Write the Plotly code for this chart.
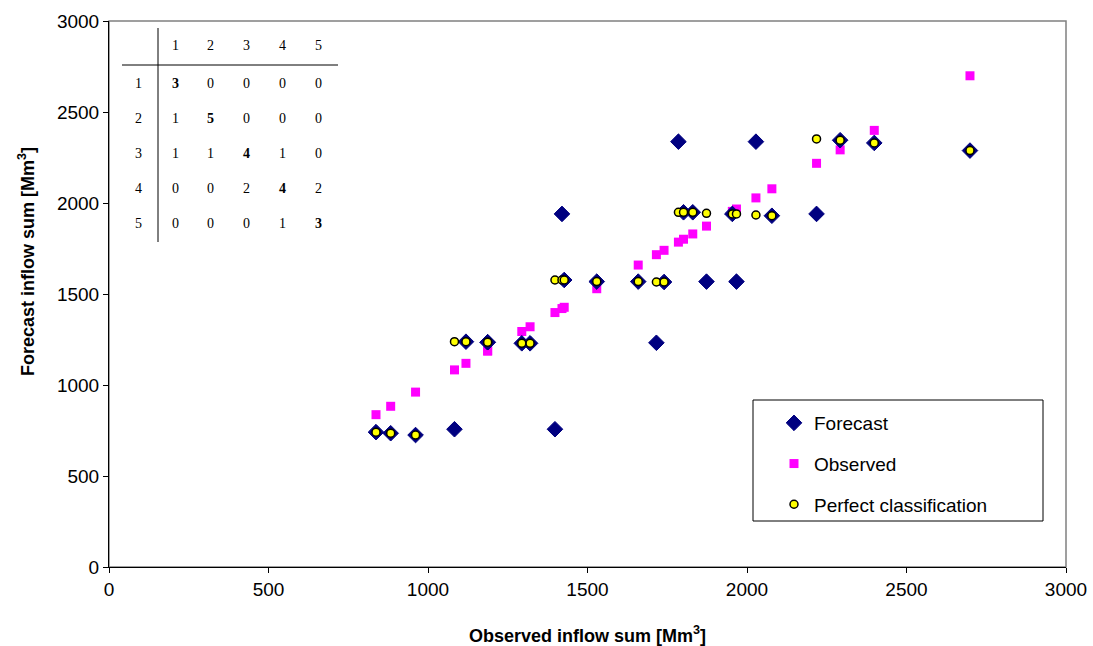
import plotly.graph_objects as go

# ---------------- data ----------------
observed = [837, 883, 961, 1083, 1119, 1187, 1187, 1294, 1320, 1398, 1420, 1427,
            1529, 1659, 1716, 1740, 1785, 1801, 1830, 1873, 1954, 1967, 2028,
            2078, 2218, 2292, 2399, 2699]
forecast = [741, 735, 725, 757, 1238, 1235, 1235, 1229, 1229, 757, 1940, 1577,
            1568, 1568, 1232, 1566, 2337, 1949, 1949, 1568, 1940, 1568, 2337,
            1930, 1940, 2345, 2330, 2288]
perfect = [741, 735, 725, 1238, 1238, 1235, 1235, 1229, 1229, 1577, 1577, 1577,
           1568, 1568, 1566, 1566, 1949, 1949, 1949, 1943, 1940, 1940, 1934,
           1930, 2352, 2345, 2330, 2288]

class_labels = ["1", "2", "3", "4", "5"]
contingency = [
    [3, 0, 0, 0, 0],
    [1, 5, 0, 0, 0],
    [1, 1, 4, 1, 0],
    [0, 0, 2, 4, 2],
    [0, 0, 0, 1, 3],
]

x_ticks = [0, 500, 1000, 1500, 2000, 2500, 3000]
y_ticks = [0, 500, 1000, 1500, 2000, 2500, 3000]

# ---------------- figure ----------------
W, H = 1093, 646
L, R, T, B = 109, 27, 21, 79
PW, PH = W - L - R, H - T - B

def px(xp):
    return (xp - L) / PW

def py(yp):
    return (H - B - yp) / PH

FONT = "Liberation Sans, Arial, sans-serif"

fig = go.Figure()

fig.add_trace(go.Scatter(
    x=observed, y=observed, mode="markers", name="Observed",
    legendrank=2, legendgroup="b",
    marker=dict(symbol="square", size=9, color="#FF00FF", line=dict(width=0)),
))
fig.add_trace(go.Scatter(
    x=observed, y=forecast, mode="markers", name="Forecast",
    legendrank=1, legendgroup="a",
    marker=dict(symbol="diamond", size=12, color="#000080",
                line=dict(width=1, color="#000080")),
))
fig.add_trace(go.Scatter(
    x=observed, y=perfect, mode="markers", name="Perfect classification",
    legendrank=3, legendgroup="c",
    marker=dict(symbol="circle", size=8, color="#FFFF00",
                line=dict(width=1.5, color="#000000")),
))

shapes = []
# plot area border (grey)
shapes.append(dict(type="rect", xref="paper", yref="paper", x0=0, x1=1, y0=0, y1=1,
                   line=dict(color="#808080", width=1.5), layer="below"))
# legend box
shapes.append(dict(type="rect", xref="paper", yref="paper",
                   x0=px(753), x1=px(1043), y0=py(521), y1=py(400),
                   line=dict(color="#000000", width=1), fillcolor="white"))
# table lines
shapes.append(dict(type="line", xref="paper", yref="paper",
                   x0=px(122), x1=px(338), y0=py(65), y1=py(65),
                   line=dict(color="#000000", width=1)))
shapes.append(dict(type="line", xref="paper", yref="paper",
                   x0=px(158), x1=px(158), y0=py(28), y1=py(242),
                   line=dict(color="#000000", width=1)))

annotations = []
col_x = [175, 210, 246, 282, 318]
row_y = [83, 118, 153, 188, 223]
TFONT = "Liberation Serif, Times New Roman, serif"

def cell(xp, yp, text):
    return dict(x=px(xp), y=py(yp), xref="paper", yref="paper", text=text,
                showarrow=False, xanchor="center", yanchor="middle",
                font=dict(family=TFONT, size=14, color="black"))

for j, lab in enumerate(class_labels):
    annotations.append(cell(col_x[j], 46, lab))
for i, lab in enumerate(class_labels):
    annotations.append(cell(138, row_y[i], lab))
    for j in range(5):
        v = str(contingency[i][j])
        if i == j:
            v = "<b>" + v + "</b>"
        annotations.append(cell(col_x[j], row_y[i], v))

# axis titles as annotations for exact placement
annotations.append(dict(x=px(587), y=py(634), xref="paper", yref="paper",
                        xanchor="center", yanchor="middle",
                        text="<b>Observed inflow sum [Mm<sup>3</sup>]</b>", showarrow=False,
                        font=dict(family=FONT, size=18, color="black")))
annotations.append(dict(x=px(26), y=py(262), xref="paper", yref="paper",
                        xanchor="center", yanchor="middle",
                        text="<b>Forecast inflow sum [Mm<sup>3</sup>]</b>", showarrow=False,
                        textangle=-90,
                        font=dict(family=FONT, size=18, color="black")))

fig.update_layout(
    width=W, height=H,
    margin=dict(l=L, r=R, t=T, b=B, autoexpand=False),
    paper_bgcolor="white", plot_bgcolor="white",
    font=dict(family=FONT, size=19, color="black"),
    shapes=shapes, annotations=annotations,
    showlegend=True,
    legend=dict(x=px(774), y=py(404), xanchor="left", yanchor="top",
                bgcolor="rgba(0,0,0,0)", borderwidth=0,
                font=dict(family=FONT, size=19, color="black"),
                tracegroupgap=13, itemsizing="trace"),
)

fig.update_xaxes(
    range=[0, 3000], tickmode="array", tickvals=x_ticks,
    ticktext=[str(v) for v in x_ticks], automargin=False,
    showgrid=False, zeroline=False, showline=True, linecolor="black", linewidth=1,
    ticks="outside", ticklen=5, tickcolor="black",
    tickfont=dict(family=FONT, size=19, color="black"),
)
fig.update_yaxes(
    range=[0, 3000], tickmode="array", tickvals=y_ticks,
    ticktext=[str(v) for v in y_ticks], automargin=False,
    showgrid=False, zeroline=False, showline=True, linecolor="black", linewidth=1,
    ticks="outside", ticklen=5, tickcolor="black",
    tickfont=dict(family=FONT, size=19, color="black"),
)

fig.write_html("out.html", config={"displayModeBar": False},
               post_script="document.body.style.margin='0';")
